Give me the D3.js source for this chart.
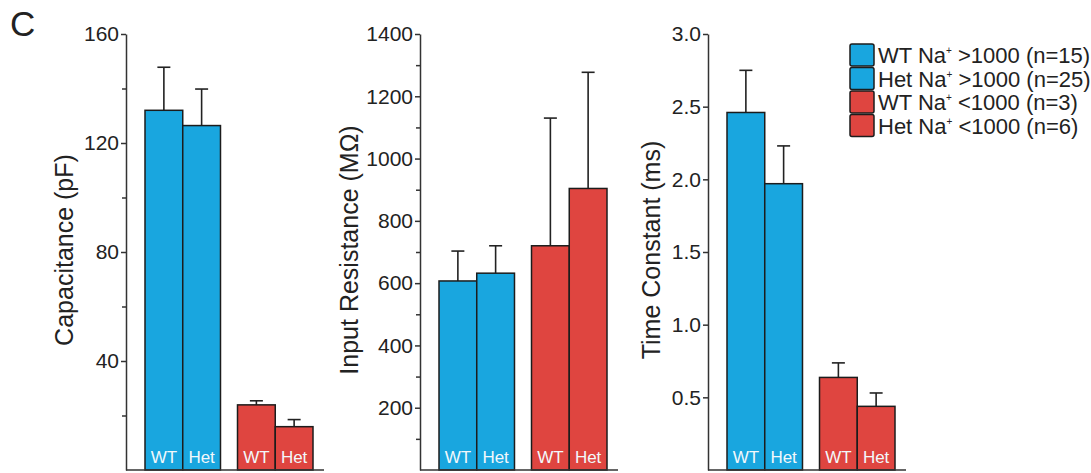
<!DOCTYPE html>
<html>
<head>
<meta charset="utf-8">
<script src="https://cdn.jsdelivr.net/npm/d3@7"></script>
<style>
  body { margin: 0; background: #fff; }
  text { font-family: "Liberation Sans", Arial, sans-serif; fill: #222; }
</style>
</head>
<body>
<script>
// valeurs
var genotypes = ["WT", "Het", "WT", "Het"];
var groupes = ["hi", "lo"];
var legendeTextes = ["WT Na|>1000 (n=15)", "Het Na|>1000 (n=25)", "WT Na|<1000 (n=3)", "Het Na|<1000 (n=6)"];

var capMoy = [132, 126.4, 23.9, 15.9];
var capErr = [15.8, 13.4, 1.5, 2.6];
var capTicks = [40, 80, 120, 160];
var capMinor = [20, 60, 100, 140];

var resMoy = [607, 632, 720, 904];
var resErr = [96, 88, 410, 373];
var resTicks = [200, 400, 600, 800, 1000, 1200, 1400];
var resMinor = [100, 300, 500, 700, 900, 1100, 1300];

var tauMoy = [2.46, 1.97, 0.637, 0.438];
var tauErr = [0.29, 0.26, 0.10, 0.092];
var tauTicks = [0.5, 1.0, 1.5, 2.0, 2.5, 3.0];
var tauMinor = [];

var w = 1091, h = 473;
var bleu = "#19a6df", rouge = "#df4540";
var basY = 470, hautY = 34;

var svg = d3.select("body").append("svg")
  .attr("width", w)
  .attr("height", h);

svg.append("text")
  .text("C")
  .attr("x", 10)
  .attr("y", 36)
  .style("font-size", "35px");

function panneau(axeX, moy, err, ticks, minor, fmt, titre, titreX) {
  var y = d3.scaleLinear()
    .domain([0, ticks[ticks.length - 1]])
    .range([basY, hautY]);

  var xg = d3.scaleBand()
    .domain(groupes)
    .range([axeX + 19, axeX + 187])
    .paddingInner(0.184);

  var xb = d3.scaleBand()
    .domain([0, 1])
    .range([0, xg.bandwidth()]);

  var g = svg.append("g");

  var data = moy.map(function(m, i) {
    return { m: m, e: err[i], g: groupes[Math.floor(i / 2)], k: i % 2, lab: genotypes[i] };
  });

  // barres d'erreur (dessous des barres)
  data.forEach(function(d) {
    var cx = xg(d.g) + xb(d.k) + xb.bandwidth() / 2;
    g.append("line")
      .attr("x1", cx).attr("x2", cx)
      .attr("y1", y(d.m)).attr("y2", y(d.m + d.e))
      .style("stroke", "#222").style("stroke-width", 1.6);
    g.append("line")
      .attr("x1", cx - 6.5).attr("x2", cx + 6.5)
      .attr("y1", y(d.m + d.e)).attr("y2", y(d.m + d.e))
      .style("stroke", "#222").style("stroke-width", 1.6);
  });

  g.selectAll(".barre")
    .data(data)
    .enter()
    .append("rect")
    .attr("x", function(d) { return xg(d.g) + xb(d.k); })
    .attr("width", xb.bandwidth())
    .attr("y", function(d) { return y(d.m); })
    .attr("height", function(d) { return basY - y(d.m); })
    .style("fill", function(d) { return d.g == "hi" ? bleu : rouge; })
    .style("stroke", "#1c1c1c")
    .style("stroke-width", 1.5);

  g.selectAll(".lab")
    .data(data)
    .enter()
    .append("text")
    .text(function(d) { return d.lab; })
    .attr("x", function(d) { return xg(d.g) + xb(d.k) + xb.bandwidth() / 2; })
    .attr("y", basY - 7)
    .attr("text-anchor", "middle")
    .style("font-size", "17px")
    .style("fill", "#f2f8fb");

  // axe Y
  var axe = d3.axisLeft(y)
    .tickValues(ticks)
    .tickFormat(fmt)
    .tickSize(5)
    .tickSizeOuter(0)
    .tickPadding(2);

  var ga = g.append("g")
    .attr("transform", "translate(" + axeX + ",0)")
    .call(axe);
  ga.selectAll("path, line").style("stroke", "#333").style("stroke-width", 1.5);
  ga.selectAll("text")
    .style("font-size", "21px")
    .style("font-family", "'Liberation Sans', Arial, sans-serif")
    .style("fill", "#222");

  var gm = g.append("g")
    .attr("transform", "translate(" + axeX + ",0)")
    .call(d3.axisLeft(y).tickValues(minor).tickFormat("").tickSize(4).tickSizeOuter(0));
  gm.select(".domain").remove();
  gm.selectAll("line").style("stroke", "#333").style("stroke-width", 1.5);

  // axe X (simple ligne)
  g.append("line")
    .attr("x1", axeX).attr("x2", axeX + 198)
    .attr("y1", basY).attr("y2", basY)
    .style("stroke", "#333").style("stroke-width", 1.5);

  g.append("text")
    .text(titre)
    .attr("transform", "translate(" + titreX + "," + 250 + ") rotate(-90)")
    .attr("text-anchor", "middle")
    .attr("dy", "0.35em")
    .style("font-size", "25px");
}

panneau(126, capMoy, capErr, capTicks, capMinor, d3.format("d"), "Capacitance (pF)", 64);
panneau(420, resMoy, resErr, resTicks, resMinor, d3.format("d"), "Input Resistance (M\u03A9)", 349);
panneau(708, tauMoy, tauErr, tauTicks, tauMinor, d3.format(".1f"), "Time Constant (ms)", 651);

// légende
var legende = svg.append("g")
  .attr("transform", "translate(850,44)");

legendeTextes.forEach(function(t, i) {
  var parts = t.split("|");
  var ly = i * 23.5;
  legende.append("rect")
    .attr("x", 0)
    .attr("y", ly)
    .attr("width", 24)
    .attr("height", 22)
    .attr("rx", 2)
    .style("fill", i < 2 ? bleu : rouge)
    .style("stroke", "#1c1c1c")
    .style("stroke-width", 1.5);
  var tx = legende.append("text")
    .attr("x", 28)
    .attr("y", ly + 19)
    .style("font-size", "22px");
  tx.append("tspan").text(parts[0]);
  tx.append("tspan").text("+").attr("dy", -9).style("font-size", "10px");
  tx.append("tspan").text(" " + parts[1]).attr("dy", 9);
});
</script>
</body>
</html>
